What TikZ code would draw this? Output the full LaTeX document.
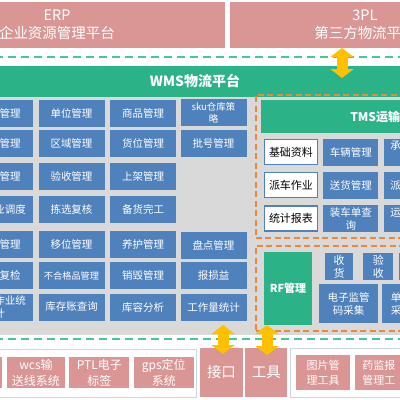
\documentclass[tikz,border=0pt]{standalone}
\usepackage{fontspec}
\setmainfont{Noto Sans CJK SC}
\usetikzlibrary{positioning,arrows.meta}

\definecolor{erppink}{RGB}{217,150,148}
\definecolor{wmsblue}{RGB}{79,129,189}
\definecolor{wmsgreen}{RGB}{43,178,135}
\definecolor{panelgray}{RGB}{217,217,217}
\definecolor{dashorange}{RGB}{236,136,58}
\definecolor{dashgreen}{RGB}{75,195,155}
\definecolor{arrowyellow}{RGB}{255,192,0}
\definecolor{boxline}{RGB}{200,216,222}

\newcommand{\fsz}[2]{\fontsize{#1}{#2}\selectfont}

\tikzset{
	blk/.style={fill=wmsblue, text=white, inner sep=1pt, align=center, minimum width=66, minimum height=27, font=\fsz{10.5}{13}},
	tmsbox/.style={fill=white, draw=wmsblue, line width=1.3pt, text=black, inner sep=1pt, minimum width=53, minimum height=25, font=\fsz{11}{13}},
	pinkbox/.style={fill=erppink, text=white, inner sep=1pt, align=center, font=\fsz{12}{16}},
	greenbox/.style={fill=wmsgreen, text=white, inner sep=1pt, align=center},
	orangebox/.style={draw=dashorange, line width=1.8pt, dash pattern=on 6pt off 3.5pt},
	greenline/.style={draw=dashgreen, line width=2pt, dash pattern=on 8pt off 5pt},
	container/.style={draw=boxline, line width=1pt, fill=white},
	fatarrow/.style={draw=arrowyellow, line width=11pt, {Triangle[width=23pt,length=9pt]}-{Triangle[width=23pt,length=9pt]}}
}

\begin{document}
\begin{tikzpicture}[x=1pt,y=-1pt]
	\useasboundingbox (0,0) rectangle (400,400);
	\clip (0,0) rectangle (400,400);
	\node[pinkbox, minimum width=336, minimum height=46, font=\fsz{14.5}{18}] (erp) at (57,25) {ERP\\企业资源管理平台};
	\node[pinkbox, minimum width=270, minimum height=46, font=\fsz{14.5}{18}] (tpl) at (365,25) {3PL\\第三方物流平\phantom{台}};
	\coordinate (glA) at (-5,57);
	\coordinate (glB) at (405,57);
	\draw[greenline] (glA) -- (glB);
	\node[greenbox, minimum width=410, minimum height=31, font=\bfseries\fsz{14}{16}] (wms) at (195,81) {WMS物流平台};
	\node[fill=panelgray, minimum width=410, minimum height=238] (panel) at (200,216) {};
	\foreach \yy/\ta/\tb/\tc [count=\i] in {
		113/{\phantom{字字}管理}/单位管理/商品管理,
		143/{\phantom{字字}管理}/区域管理/货位管理,
		176/{\phantom{字字}管理}/验收管理/上架管理,
		209/{\phantom{字字}业调度}/拣选复核/备货完工,
		244/{\phantom{字字}管理}/移位管理/养护管理,
		275.5/{\phantom{字字}复检}/{\fsz{9.2}{11}不合格品管理}/销毁管理,
		307/{\phantom{字字}作业统\\计}/库存账查询/库容分析}{
		\node[blk] (a\i) at (-0.5,\yy) {\ta};
		\node[blk] (b\i) at (71.5,\yy) {\tb};
		\node[blk] (c\i) at (143,\yy) {\tc};
	}
	\node[blk, font=\fsz{9.5}{12}] (d1) at (213.5,112.5) {sku仓库策\\略};
	\node[blk] (d2) at (213.5,143) {批号管理};
	\node[blk] (d5) at (213.5,245) {盘点管理};
	\node[blk] (d6) at (213.5,275.5) {报损益};
	\node[blk] (d7) at (213.5,307) {工作量统计};
	\node[orangebox, minimum width=170, minimum height=143, anchor=north west] (tmsfrm) at (255,94) {};
	\node[orangebox, minimum width=170, minimum height=85, anchor=north west] (rffrm) at (255,245) {};
	\node[greenbox, minimum width=252, minimum height=33, anchor=north west, font=\bfseries\fsz{12}{14}] (tmshd) at (261,100) {TMS运输平\phantom{台}};
	\node[tmsbox] (jczl) at (291,152) {基础资料};
	\node[blk, minimum width=55, right=5pt of jczl] (clgl) {车辆管理};
	\node[blk, minimum width=55, right=5pt of clgl] (cys) {承\phantom{字字字}\\\phantom{字}};
	\node[tmsbox] (pczy) at (291,185) {派车作业};
	\node[blk, minimum width=55, right=5pt of pczy] (shgl) {送货管理};
	\node[blk, minimum width=55, right=5pt of shgl] (pcd) {派\phantom{字字字}};
	\node[tmsbox] (tjbb) at (291,218.5) {统计报表};
	\node[blk, minimum width=55, right=5pt of tjbb] (zcd) {装车单查\\询};
	\node[blk, minimum width=55, right=5pt of zcd] (ysd) {运\phantom{字字字}\\\phantom{字}};
	\node[greenbox, minimum width=48, minimum height=73, font=\bfseries\fsz{11}{13}] (rfgl) at (288,288.5) {RF管理};
	\node[blk, minimum width=28, minimum height=27, font=\fsz{11}{13}] (sh) at (339,266.5) {收\\货};
	\node[blk, minimum width=30, minimum height=27, font=\fsz{11}{13}, right=10pt of sh] (ys) {验\\收};
	\node[blk, minimum width=30, minimum height=27, right=5pt of ys] (rfx) {};
	\node[blk, minimum width=59, minimum height=39] (dzjg) at (348.5,303.5) {电子监管\\码采集};
	\node[blk, minimum width=59, minimum height=39, right=4pt of dzjg] (dpcj) {单\phantom{字字字}\\采\phantom{字字字}};
	\coordinate (glC) at (-5,339);
	\coordinate (glD) at (405,339);
	\draw[greenline] (glC) -- (glD);
	\node[container, minimum width=206, minimum height=48, anchor=north west] (lcont) at (-10,349) {};
	\node[pinkbox, minimum width=58, minimum height=31] (pk0) at (-27,372.5) {};
	\node[pinkbox, minimum width=58, minimum height=31] (wcs) at (36,372.5) {wcs输\\送线系统};
	\node[pinkbox, minimum width=60, minimum height=31, right=4pt of wcs] (ptl) {PTL电子\\标签};
	\node[pinkbox, minimum width=60, minimum height=31, right=4pt of ptl] (gps) {gps定位\\系统};
	\node[pinkbox, minimum width=43, minimum height=49, font=\fsz{14.5}{17}] (jk) at (221.5,372.5) {接口};
	\node[pinkbox, minimum width=42, minimum height=49, font=\fsz{14.5}{17}, right=2pt of jk] (gj) {工具};
	\node[container, minimum width=125, minimum height=49, anchor=north west] (rcont) at (290,348) {};
	\node[pinkbox, minimum width=54, minimum height=35, font=\fsz{11}{15}] (tpgl) at (323,372.5) {图片管\\理工具};
	\node[pinkbox, minimum width=58, minimum height=35, font=\fsz{11}{15}, right=5pt of tpgl] (yjbg) {药监报\phantom{告}\\管理工\phantom{具}};
	\coordinate (upA) at (342,48);
	\coordinate (upB) at (342,78);
	\draw[fatarrow] (upA) -- (upB);
	\coordinate (jkA) at (223,325);
	\coordinate (jkB) at (223,354);
	\draw[fatarrow] (jkA) -- (jkB);
	\coordinate (gjA) at (267,325);
	\coordinate (gjB) at (267,355);
	\draw[fatarrow] (gjA) -- (gjB);
\end{tikzpicture}
\end{document}
